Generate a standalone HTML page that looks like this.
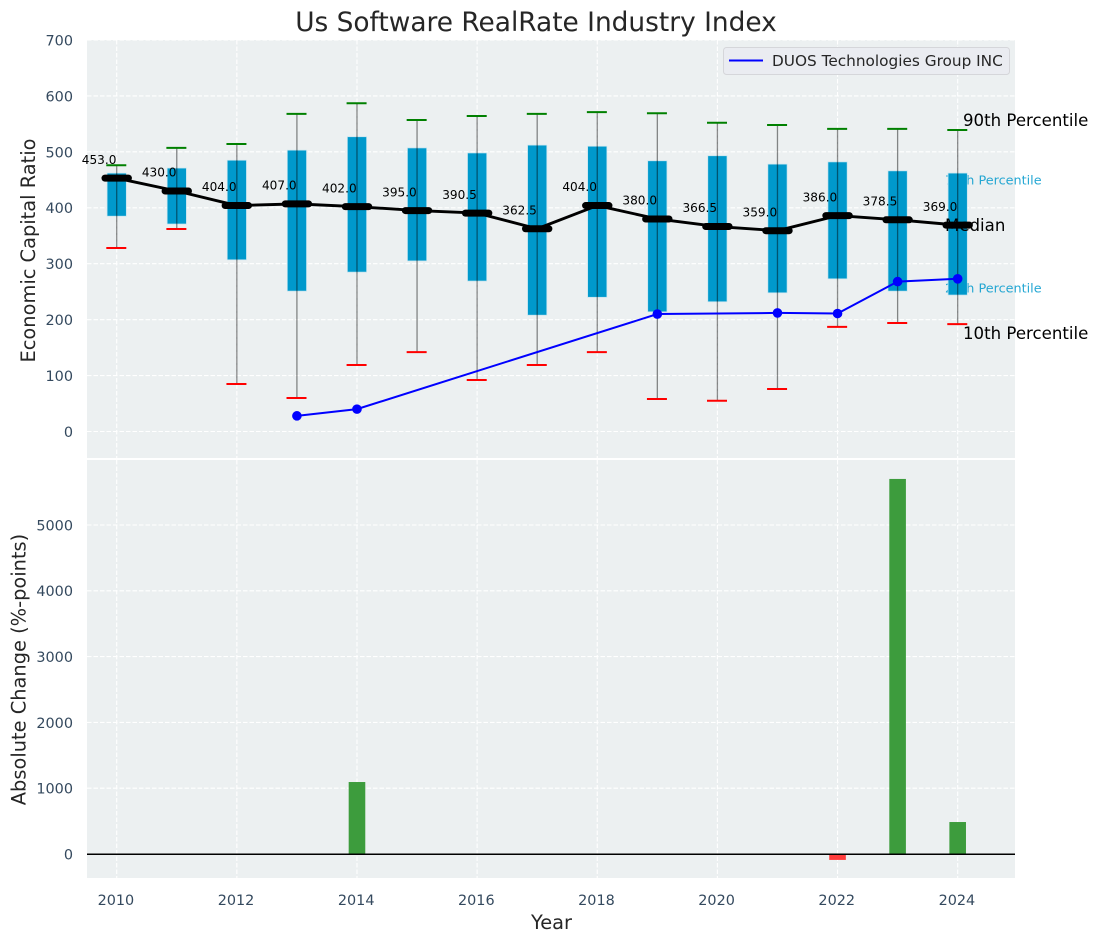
<!DOCTYPE html>
<html lang="en">
<head>
<meta charset="utf-8">
<title>Us Software RealRate Industry Index</title>
<style>
html,body{margin:0;padding:0;background:#fff;width:1098px;height:942px;overflow:hidden}
svg{display:block}
text{font-family:"DejaVu Sans","Liberation Sans",sans-serif}
</style>
</head>
<body>
<svg id="chart" xmlns="http://www.w3.org/2000/svg" width="1098" height="942" viewBox="0 0 1098 942"></svg>
<script>
const years = [2010,2011,2012,2013,2014,2015,2016,2017,2018,2019,2020,2021,2022,2023,2024];
const p90 = [476,507,514,568,587,557,564,568,571,569,552,548,541,541,539];
const p75 = [462,471,485,503,527,507,498,512,510,484,493,478,482,466,462];
const medians = [453,430,404,407,402,395,390.5,362.5,404,380,366.5,359,386,378.5,369];
const p25 = [385,371,307,251,285,305,269,208,240,214,232,248,273,251,244];
const p10 = [328,362,85,60,119,142,92,119,142,58,55,76,187,194,192];
const companyYears = [2013,2014,2019,2021,2022,2023,2024];
const companyValues = [28,40,210,212,211,268,273];
const changeYears = [2014,2022,2023,2024];
const changeValues = [1094,-90,5700,486];
const topTicks = [0,100,200,300,400,500,600,700];
const bottomTicks = [0,1000,2000,3000,4000,5000];
const xTicks = [2010,2012,2014,2016,2018,2020,2022,2024];

const svg = document.getElementById('chart');
const NS = 'http://www.w3.org/2000/svg';
const LEFT = 87, RIGHT = 1015, TOP1 = 40, BOT1 = 458, TOP2 = 460, BOT2 = 878;
const xs = v => 116.7 + (v - 2010) * 60.07;
const y1 = v => 431.5 - v * 0.5593;
const y2 = v => 854 - v * 0.0658;

function make(tag, attrs, parent) {
  const el = document.createElementNS(NS, tag);
  for (const k in attrs) el.setAttribute(k, attrs[k]);
  (parent || svg).appendChild(el);
  return el;
}

let el;
// Panels
el = make('rect', {x:LEFT,y:TOP1,width:RIGHT-LEFT,height:BOT1-TOP1,fill:'#ecf0f1'});


el = make('rect', {x:LEFT,y:TOP2,width:RIGHT-LEFT,height:BOT2-TOP2,fill:'#ecf0f1'});



// Grid
const gridStyle = {stroke:'#ffffff','stroke-width':1.1,'stroke-dasharray':'4.5 2',fill:'none'};
topTicks.forEach(t => {
  el = make('line', Object.assign({x1:LEFT,x2:RIGHT,y1:y1(t),y2:y1(t)}, gridStyle));
  
  
  el = make('text', {x:73,y:y1(t)+5.4,'text-anchor':'end','font-size':14.4,fill:'#34495e'});
  el.textContent = t;
  
  
});
bottomTicks.forEach(t => {
  el = make('line', Object.assign({x1:LEFT,x2:RIGHT,y1:y2(t),y2:y2(t)}, gridStyle));
  
  
  el = make('text', {x:73,y:y2(t)+5.4,'text-anchor':'end','font-size':14.4,fill:'#34495e'});
  el.textContent = t;
  
  
});
xTicks.forEach(t => {
  el = make('line', Object.assign({x1:xs(t),x2:xs(t),y1:TOP1,y2:BOT1}, gridStyle));
  
  
  el = make('line', Object.assign({x1:xs(t),x2:xs(t),y1:TOP2,y2:BOT2}, gridStyle));
  
  
  el = make('text', {x:xs(t)-0.8,y:905,'text-anchor':'middle','font-size':14.4,fill:'#34495e'});
  el.textContent = t;
  
  
});

// Percentile annotations sit beneath boxes
const last = years.length - 1;
el = make('text', {x:945,y:y1(p75[last])+11.5,'font-size':12.8,fill:'#0099cc','fill-opacity':0.85});
el.textContent = '75th Percentile';


el = make('text', {x:945,y:y1(p25[last])-2.5,'font-size':12.8,fill:'#0099cc','fill-opacity':0.85});
el.textContent = '25th Percentile';



// Boxes
years.forEach((yr, i) => {
  el = make('rect', {x:xs(yr)-9.6,y:y1(p75[i]),width:19.2,height:y1(p25[i])-y1(p75[i]),fill:'#0099cc',stroke:'#c3e4ef','stroke-width':0.7});
  
  
});
// Whiskers and caps
years.forEach((yr, i) => {
  el = make('line', {x1:xs(yr),x2:xs(yr),y1:y1(p90[i]),y2:y1(p10[i]),stroke:'#000','stroke-opacity':0.45,'stroke-width':1.3});
  
  
  el = make('line', {x1:xs(yr)-10.4,x2:xs(yr)+9.6,y1:y1(p90[i]),y2:y1(p90[i]),stroke:'#008000','stroke-width':2});
  
  
  el = make('line', {x1:xs(yr)-10.4,x2:xs(yr)+9.6,y1:y1(p10[i]),y2:y1(p10[i]),stroke:'#ff0000','stroke-width':2});
  
  
});

// Median line
el = make('polyline', {points:years.map((yr,i)=>xs(yr)+','+y1(medians[i])).join(' '),fill:'none',stroke:'#000','stroke-width':2.9,'stroke-linejoin':'round'});


years.forEach((yr, i) => {
  el = make('line', {x1:xs(yr)-11.7,x2:xs(yr)+11.7,y1:y1(medians[i]),y2:y1(medians[i]),stroke:'#000','stroke-width':7,'stroke-linecap':'round'});
  
  
  el = make('text', {x:xs(yr)-0.3,y:y1(medians[i])-14.3,'text-anchor':'end','font-size':12.1,fill:'#000'});
  el.textContent = medians[i].toFixed(1);
  
  
});

// Company series
el = make('polyline', {points:companyYears.map((yr,i)=>xs(yr)+','+y1(companyValues[i])).join(' '),fill:'none',stroke:'#0000ff','stroke-width':2});


companyYears.forEach((yr, i) => {
  el = make('circle', {cx:xs(yr),cy:y1(companyValues[i]),r:4.8,fill:'#0000ff'});
  
  
});

// Percentile annotations above
el = make('text', {x:963,y:y1(p90[last])-4,'font-size':16.6,fill:'#000'});
el.textContent = '90th Percentile';


el = make('text', {x:945,y:y1(medians[last])+6,'font-size':16.6,fill:'#000'});
el.textContent = 'Median';


el = make('text', {x:963,y:y1(p10[last])+15,'font-size':16.6,fill:'#000'});
el.textContent = '10th Percentile';



// Legend
el = make('rect', {x:723.5,y:47.5,width:286,height:27,rx:3,fill:'#eaecf1',stroke:'#d5d6da','stroke-width':1});


el = make('line', {x1:729,x2:763,y1:60.5,y2:60.5,stroke:'#0000ff','stroke-width':2});


el = make('text', {x:772,y:66,'font-size':15.3,fill:'#262626'});
el.textContent = 'DUOS Technologies Group INC';



// Change bars
changeYears.forEach((yr, i) => {
  const v = changeValues[i];
  el = make('rect', {x:xs(yr)-8.3,y:Math.min(y2(v),y2(0)),width:16.6,height:Math.abs(y2(v)-y2(0)),fill:v>=0?'#3d9c3d':'#ff3c3c'});
  
  
});
el = make('line', {x1:LEFT,x2:RIGHT,y1:y2(0)+0.3,y2:y2(0)+0.3,stroke:'#000','stroke-width':1.5});



// Titles
el = make('text', {x:536,y:31,'text-anchor':'middle','font-size':26.4,fill:'#262626'});
el.textContent = 'Us Software RealRate Industry Index';


el = make('text', {x:551.5,y:929,'text-anchor':'middle','font-size':19.4,fill:'#262626'});
el.textContent = 'Year';


el = make('text', {x:0,y:0,'text-anchor':'middle','font-size':19.4,fill:'#262626',transform:'translate(35 250.5) rotate(-90)'});
el.textContent = 'Economic Capital Ratio';


el = make('text', {x:0,y:0,'text-anchor':'middle','font-size':19.4,fill:'#262626',transform:'translate(25.5 669.5) rotate(-90)'});
el.textContent = 'Absolute Change (%-points)';


</script>
</body>
</html>
